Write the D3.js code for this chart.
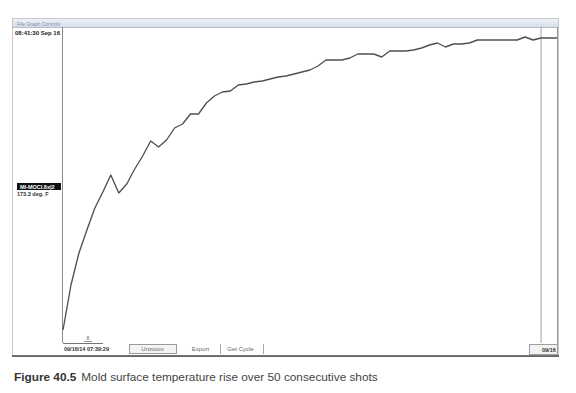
<!DOCTYPE html>
<html><head><meta charset="utf-8">
<script src="https://cdn.jsdelivr.net/npm/d3@7"></script>
<style>
html,body{margin:0;padding:0;background:#fff;}
svg{display:block;}
</style></head>
<body><svg id="c" width="576" height="393"></svg>
<script>
// Mold surface temperature (deg F) per shot
const shots = d3.range(0, 63);
const temps = [159.6,164.1,167.3,169.6,171.8,173.4,175.1,173.3,174.2,175.7,
  177.0,178.5,177.9,178.6,179.8,180.2,181.2,181.2,182.3,183.0,
  183.4,183.5,184.1,184.2,184.4,184.5,184.7,184.9,185.0,185.2,
  185.4,185.6,186.0,186.6,186.6,186.6,186.8,187.2,187.2,187.2,
  186.9,187.5,187.5,187.5,187.6,187.8,188.1,188.3,187.9,188.2,
  188.2,188.3,188.6,188.6,188.6,188.6,188.6,188.6,188.9,188.6,
  188.8,188.8,188.8];
const topLabel = "08:41:30 Sep 16";
const seriesTag = "MI-MOCI.8x|2";
const cursorValue = "173.3 deg. F";
const startLabel = "09/16/14 07:39:29";
const endLabel = "09/16";
const buttons = ["Unzoom", "Export", "Get Cycle"];
const menu = "File   Graph Controls";
const captionBold = "Figure 40.5";
const captionText = "Mold surface temperature rise over 50 consecutive shots";
const cursorShot = 60;

const svg = d3.select("#c");
const F = "'Liberation Sans', Arial, sans-serif";

// frame
const fx0 = 12, fx1 = 558, fy0 = 18, fy1 = 356;
svg.append("rect").attr("x", fx0 + 0.5).attr("y", fy0 + 0.5).attr("width", fx1 - fx0).attr("height", fy1 - fy0)
  .attr("fill", "#fff").attr("stroke", "#c8c8c8");
// title/menu bar
const grad = svg.append("defs").append("linearGradient").attr("id", "tb").attr("x1", 0).attr("x2", 0).attr("y1", 0).attr("y2", 1);
grad.append("stop").attr("offset", 0).attr("stop-color", "#eef1f8");
grad.append("stop").attr("offset", 1).attr("stop-color", "#d6dcea");
svg.append("rect").attr("x", fx0 + 1).attr("y", fy0 + 1).attr("width", fx1 - fx0 - 1).attr("height", 8).attr("fill", "url(#tb)");
svg.append("text").attr("x", 17).attr("y", 25.5).attr("font-family", F).attr("font-size", 5).attr("fill", "#8a93a8").text(menu);
svg.append("line").attr("x1", fx0).attr("x2", fx1).attr("y1", 27.5).attr("y2", 27.5).attr("stroke", "#b8bcc6");

// plot area
const px0 = 63, px1 = 557, py0 = 27, py1 = 340;
const x = d3.scaleLinear().domain([0, 62]).range([px0, px1]);
const y = d3.scaleLinear().domain([158.6, 189.9]).range([py1, py0]);

svg.append("line").attr("x1", px0 - 0.5).attr("x2", px0 - 0.5).attr("y1", py0).attr("y2", 343).attr("stroke", "#8c8c8c");
svg.append("line").attr("x1", px1 + 0.5).attr("x2", px1 + 0.5).attr("y1", py0).attr("y2", 355).attr("stroke", "#9a9a9a");
// cursor line
svg.append("line").attr("x1", x(cursorShot)).attr("x2", x(cursorShot)).attr("y1", py0).attr("y2", 343)
  .attr("stroke", "#a0a0a0").attr("stroke-width", 1);

// left panel labels
svg.append("text").attr("x", 15).attr("y", 35).attr("font-family", F).attr("font-size", 6).attr("font-weight", "bold").attr("fill", "#222").text(topLabel);
svg.append("rect").attr("x", 17).attr("y", 183).attr("width", 44).attr("height", 7).attr("fill", "#111");
svg.append("text").attr("x", 20).attr("y", 188.8).attr("font-family", F).attr("font-size", 5.5).attr("font-weight", "bold").attr("fill", "#fff").text(seriesTag);
svg.append("text").attr("x", 17).attr("y", 196).attr("font-family", F).attr("font-size", 5.5).attr("font-weight", "bold").attr("fill", "#333").text(cursorValue);

// line
const line = d3.line().x((d, i) => x(shots[i])).y(d => y(d));
svg.append("path").datum(temps).attr("d", line).attr("fill", "none").attr("stroke", "#505050").attr("stroke-width", 1.35).attr("stroke-linejoin", "round");

// bottom bar
svg.append("text").attr("x", 86.5).attr("y", 340).attr("font-family", F).attr("font-size", 5).attr("fill", "#666").text("8");
svg.append("line").attr("x1", 84).attr("x2", 92).attr("y1", 341.5).attr("y2", 341.5).attr("stroke", "#999");
svg.append("line").attr("x1", 63).attr("x2", 103).attr("y1", 343.5).attr("y2", 343.5).attr("stroke", "#777");
svg.append("text").attr("x", 64).attr("y", 350.5).attr("font-family", F).attr("font-size", 5.5).attr("font-weight", "bold").attr("fill", "#333").text(startLabel);
const bx = [[129, 47, true], [181, 39, false], [220, 43, false]];
buttons.forEach((b, i) => {
  const [bx0, bw, boxed] = bx[i];
  if (boxed) {
    svg.append("rect").attr("x", bx0 + 0.5).attr("y", 344.5).attr("width", bw).attr("height", 9).attr("fill", "#f4f4f4").attr("stroke", "#9a9a9a");
  } else {
    svg.append("line").attr("x1", bx0 + bw + 0.5).attr("x2", bx0 + bw + 0.5).attr("y1", 344).attr("y2", 354).attr("stroke", "#aaa");
  }
  svg.append("text").attr("x", bx0 + bw / 2 + (i === 2 ? -1 : 0)).attr("y", 351).attr("text-anchor", "middle").attr("font-family", F).attr("font-size", 6).attr("fill", "#666").text(b);
});
svg.append("rect").attr("x", 529.5).attr("y", 344.5).attr("width", 28).attr("height", 10).attr("fill", "#f2f2f2").attr("stroke", "#a0a0a0");
svg.append("text").attr("x", 542).attr("y", 351.5).attr("font-family", F).attr("font-size", 5.5).attr("font-weight", "bold").attr("fill", "#333").text(endLabel);
// bottom edge
svg.append("line").attr("x1", fx0).attr("x2", fx1 + 1).attr("y1", 356).attr("y2", 356).attr("stroke", "#444").attr("stroke-width", 1.5);

// caption
const cap = svg.append("text").attr("x", 14).attr("y", 381).attr("font-family", F).attr("font-size", 11.8).attr("fill", "#444");
cap.append("tspan").attr("font-weight", "bold").attr("fill", "#333").text(captionBold);
cap.append("tspan").attr("dx", 5).text(captionText);
</script>
</body></html>
